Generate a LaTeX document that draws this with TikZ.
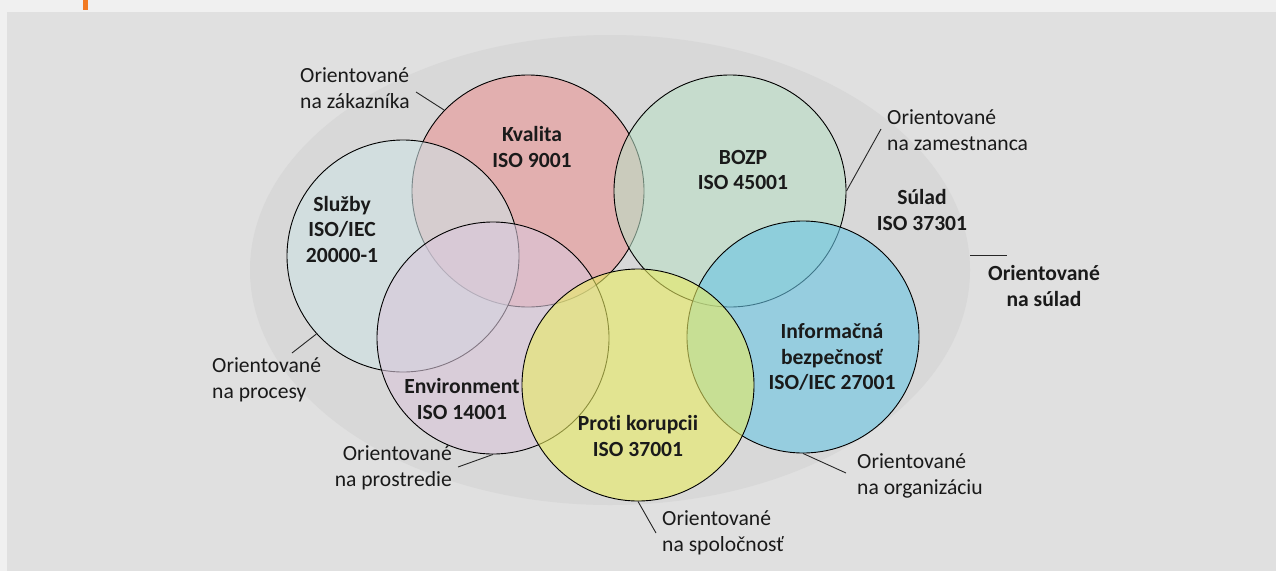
\documentclass[tikz,border=0pt]{standalone}
\usepackage{fontspec}
\setmainfont[Ligatures=NoCommon]{Carlito}
\usetikzlibrary{shapes.geometric}
\definecolor{pagebg}{HTML}{F0F0F0}
\definecolor{panelbg}{HTML}{E0E0E0}
\definecolor{ellbg}{HTML}{D8D8D8}
\definecolor{accent}{HTML}{F27A22}
\definecolor{inktext}{HTML}{1A1A1A}
\definecolor{cKval}{RGB}{233,149,149}
\definecolor{cBozp}{RGB}{186,223,198}
\definecolor{cSluz}{RGB}{206,226,229}
\definecolor{cEnv}{RGB}{218,199,219}
\definecolor{cKor}{RGB}{233,236,99}
\definecolor{cInf}{RGB}{106,198,229}
\tikzset{
  ring/.style={circle, draw=black, line width=0.9pt, fill opacity=0.6, minimum size=232pt, inner sep=0pt},
  boldlab/.style={font=\fontsize{21.6}{25.5}\selectfont\bfseries, text=inktext, align=center, inner sep=0pt},
  plainlab/.style={font=\fontsize{21.6}{26}\selectfont, text=inktext, align=left, inner sep=0pt},
  lead/.style={draw=black!85, line width=0.9pt}
}
\begin{document}
\begin{tikzpicture}[x=1pt, y=-1pt]
\useasboundingbox (0,0) rectangle (1276,571);
% backdrop
\fill[pagebg] (0,0) rectangle (1276,571);
\fill[panelbg] (7,12) rectangle (1276,571);
\fill[accent] (83,0) rectangle (88,10);
% compliance ellipse
\node[ellipse, fill=ellbg, minimum width=720pt, minimum height=470pt, inner sep=0pt] (ell) at (610,270) {};
% management system circles
\node[ring, fill=cKval] (kv) at (528,191) {};
\node[ring, fill=cBozp] (bo) at (730,191) {};
\node[ring, fill=cSluz] (sl) at (403,256) {};
\node[ring, fill=cEnv] (en) at (493,338) {};
\node[ring, fill=cInf] (in) at (803,337) {};
\node[ring, fill=cKor] (ko) at (638,385) {};
% standard names
\node[boldlab] (kvt) at (532,147) {Kvalita\\ISO 9001};
\node[boldlab] (bot) at (743,170) {BOZP\\ISO 45001};
\node[boldlab] (slt) at (342,229) {Služby\\ISO/IEC\\20000-1};
\node[boldlab] (ent) at (462,399) {Environment\\ISO 14001};
\node[boldlab] (kot) at (638,436) {Proti korupcii\\ISO 37001};
\node[boldlab] (int) at (832,357) {Informačná\\bezpečnosť\\ISO/IEC 27001};
\node[boldlab] (sut) at (922,210) {Súlad\\ISO 37301};
\node[boldlab] (sot) at (1044,286) {Orientované\\na súlad};
% orientation labels
\node[plainlab, anchor=west] (lzak) at (300,88) {Orientované\\na zákazníka};
\node[plainlab, anchor=west] (lzam) at (887,130) {Orientované\\na zamestnanca};
\node[plainlab, anchor=west] (lpro) at (212,380) {Orientované\\na procesy};
\node[plainlab, anchor=east, align=right] (lprs) at (452,468) {Orientované\\na prostredie};
\node[plainlab, anchor=west] (lspo) at (662,533) {Orientované\\na spoločnosť};
\node[plainlab, anchor=west] (lorg) at (857,476) {Orientované\\na organizáciu};
% leader lines
\coordinate (ezak) at (416,92);
\coordinate (ezam) at (881,129);
\coordinate (epro) at (292,353);
\coordinate (eprs) at (458,467);
\coordinate (espo) at (656,533);
\coordinate (eorg) at (846,473);
\coordinate (sua) at (970,255);
\coordinate (sub) at (1007,255);
\draw[lead] (kv.136) -- (ezak);
\draw[lead] (bo.0) -- (ezam);
\draw[lead] (sl.222) -- (epro);
\draw[lead] (en.270) -- (eprs);
\draw[lead] (ko.270) -- (espo);
\draw[lead] (in.270) -- (eorg);
\draw[lead] (sua) -- (sub);
\end{tikzpicture}
\end{document}
